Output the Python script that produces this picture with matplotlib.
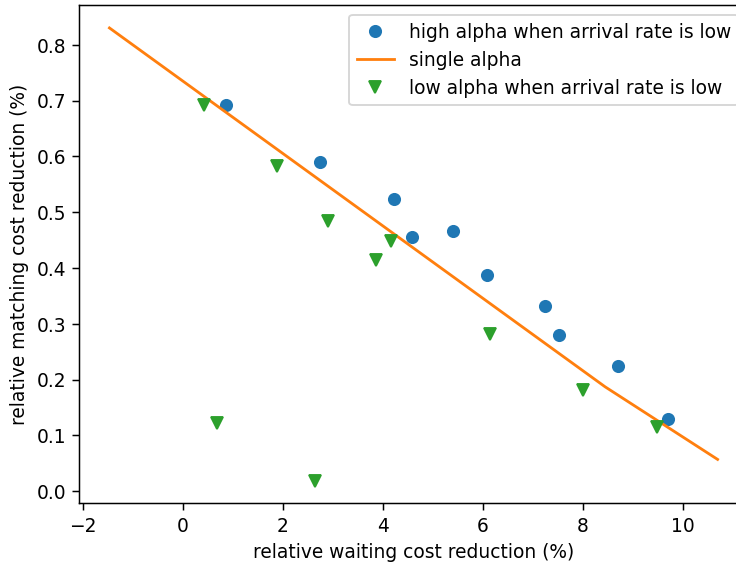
import matplotlib
matplotlib.use('Agg')
import matplotlib.pyplot as plt

# high alpha when arrival rate is low
high_x = [0.87, 2.74, 4.22, 4.59, 5.41, 6.08, 7.25, 7.52, 8.71, 9.71]
high_y = [0.692, 0.590, 0.523, 0.455, 0.466, 0.388, 0.331, 0.280, 0.224, 0.129]

# single alpha
single_x = [-1.47, 8.45, 10.70]
single_y = [0.830, 0.187, 0.057]

# low alpha when arrival rate is low
low_x = [0.43, 0.69, 1.88, 2.65, 2.90, 3.87, 4.17, 6.15, 8.00, 9.48]
low_y = [0.692, 0.122, 0.583, 0.019, 0.484, 0.415, 0.449, 0.282, 0.181, 0.115]

dpi = 134.6
fig = plt.figure(figsize=(736.4 / dpi, 563.4 / dpi), dpi=dpi)
ax = fig.add_axes([79 / 736, 59.7 / 563, 668.6 / 736, 497.6 / 563])

ax.plot(high_x, high_y, 'o', label='high alpha when arrival rate is low')
ax.plot(single_x, single_y, '-', label='single alpha')
ax.plot(low_x, low_y, 'v', label='low alpha when arrival rate is low')

ax.set_xlabel('relative waiting cost reduction (%)')
ax.set_ylabel('relative matching cost reduction (%)')
ax.legend(loc='upper right')

fig.savefig('out.png', dpi=dpi)
